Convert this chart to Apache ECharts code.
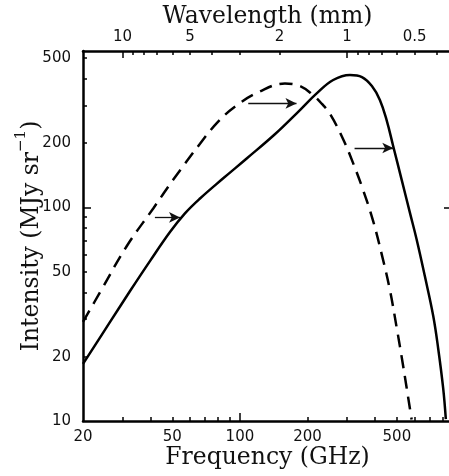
<!DOCTYPE html>
<html>
<head>
<meta charset="utf-8">
<script src="https://cdn.jsdelivr.net/npm/echarts@6/dist/echarts.min.js"></script>
<style>html,body{margin:0;padding:0;background:#fff;}#c{width:449px;height:476px;}</style>
</head>
<body>
<div id="c"></div>
<script>
// Solid curve (frequency GHz, intensity MJy/sr)
var freqSolid = [20, 26.4, 32.4, 39.8, 48.8, 56.9, 66.4, 84.0, 107.5, 143.1, 179.4, 220.3, 260.2, 309, 349.5, 387, 420, 451, 481, 525, 571, 612, 666, 726, 764, 804, 826];
var intSolid  = [18.5, 29.1, 40.6, 56.2, 76.7, 93.8, 110.1, 136.5, 169.9, 220, 276.5, 342.7, 395, 417, 407.7, 370, 318.7, 254.3, 194.5, 135, 94.8, 71, 47.7, 31, 21.8, 14.2, 10.2];
// Dashed curve
var freqDash = [20, 23.8, 31.3, 41.1, 50.5, 66.4, 79.8, 96.0, 121.5, 158.6, 185, 211.3, 231.8, 251.7, 287.5, 318.6, 353, 391.2, 428.9, 465.6, 500.1, 531.9, 571.5, 581.6];
var intDash  = [29.1, 40.0, 65.8, 98.9, 135, 198.7, 251.6, 298.8, 347.1, 380.4, 370.3, 336.2, 305.2, 274.2, 209.7, 162.1, 121.3, 87, 59.8, 41.0, 27.0, 18.4, 11.45, 10.17];
// Arrows: [fromFreq, toFreq, intensity]
var arrows = [[41.8, 54.1, 89.8], [108.9, 178.6, 307], [324, 482, 189.7]];
// Tick values
var freqLabels = [20, 50, 100, 200, 500];
var freqMinorTicks = [30, 40, 50, 60, 70, 80, 90, 200, 300, 400, 500, 600, 700, 800];
var freqMajorTicks = [100];
var wlLabels = [10, 5, 2, 1, 0.5];
var wlMinorTicks = [9, 8, 7, 6, 5, 4, 3, 2, 0.9, 0.8, 0.7, 0.6, 0.5, 0.4];
var wlMajorTicks = [10, 1];
var intLabels = [10, 20, 50, 100, 200, 500];
var intMinorTicks = [20, 30, 40, 50, 60, 70, 80, 90, 200, 300, 400, 500];
var intMajorTicks = [100];

var C = 299.792458; // mm*GHz
var fMin = 20, fMax = 880, iMin = 10, iMax = 540;

function zip(a, b) { return a.map(function (v, i) { return [v, b[i]]; }); }

var labelFont = { fontFamily: 'DejaVu Sans', fontSize: 15, color: '#111' };
var nameFont = { fontFamily: 'DejaVu Serif', fontSize: 23.5, color: '#111' };
var axLine = { show: true, lineStyle: { color: '#000', width: 2.5 } };

function xAx(opts) {
  return Object.assign({
    type: 'log', logBase: 10, min: fMin, max: fMax, splitLine: { show: false },
    axisLine: { show: false }, axisLabel: { show: false }, axisTick: { show: false }
  }, opts);
}
function yAx(opts) {
  return Object.assign({
    type: 'log', logBase: 10, min: iMin, max: iMax, splitLine: { show: false },
    axisLine: { show: false }, axisLabel: { show: false }, axisTick: { show: false }
  }, opts);
}

var markData = arrows.map(function (a) {
  return [{ coord: [a[0], a[2]] }, { coord: [a[1], a[2]] }];
});

var option = {
  animation: false,
  backgroundColor: '#fff',
  grid: { left: 83, top: 51, right: -3, bottom: 55, containLabel: false, outerBoundsMode: 'none' },
  xAxis: [
    xAx({
      position: 'bottom', axisLine: axLine,
      axisTick: { show: true, inside: true, length: 4, customValues: freqMinorTicks, lineStyle: { color: '#000', width: 1.5 } },
      axisLabel: Object.assign({ show: true, margin: 9, customValues: freqLabels }, labelFont),
      name: 'Frequency (GHz)', nameLocation: 'middle', nameGap: 25, nameMoveOverlap: false, nameTextStyle: nameFont
    }),
    xAx({
      position: 'bottom',
      axisTick: { show: true, inside: true, length: 8, customValues: freqMajorTicks, lineStyle: { color: '#000', width: 1.5 } }
    }),
    xAx({
      position: 'top', inverse: true, min: C / fMax, max: C / fMin, axisLine: axLine,
      axisTick: { show: true, inside: true, length: 4, customValues: wlMinorTicks, lineStyle: { color: '#000', width: 1.5 } },
      axisLabel: Object.assign({ show: true, margin: 6, customValues: wlLabels }, labelFont),
      name: 'Wavelength (mm)', nameLocation: 'middle', nameGap: 22, nameMoveOverlap: false, nameTextStyle: nameFont
    }),
    xAx({
      position: 'top', inverse: true, min: C / fMax, max: C / fMin,
      axisTick: { show: true, inside: true, length: 7, customValues: wlMajorTicks, lineStyle: { color: '#000', width: 1.5 } }
    })
  ],
  yAxis: [
    yAx({
      position: 'left', axisLine: axLine,
      axisTick: { show: true, inside: true, length: 4, customValues: intMinorTicks, lineStyle: { color: '#000', width: 1.5 } },
      axisLabel: Object.assign({ show: true, margin: 12, customValues: intLabels }, labelFont),
      name: '{t|Intensity (MJy sr}{s|−1}{t|)}', nameLocation: 'middle', nameRotate: 90, nameGap: 39, nameMoveOverlap: false,
      nameTextStyle: {
        rich: {
          t: { fontFamily: 'DejaVu Serif', fontSize: 23.5, color: '#111', lineHeight: 30, verticalAlign: 'bottom' },
          s: { fontFamily: 'DejaVu Serif', fontSize: 15, color: '#111', lineHeight: 30, verticalAlign: 'top' }
        }
      }
    }),
    yAx({
      position: 'left',
      axisTick: { show: true, inside: true, length: 8, customValues: intMajorTicks, lineStyle: { color: '#000', width: 1.5 } }
    }),
    yAx({
      position: 'right', axisLine: axLine,
      axisTick: { show: true, inside: true, length: 8, customValues: intMajorTicks, lineStyle: { color: '#000', width: 1.5 } }
    })
  ],
  series: [
    {
      type: 'line', xAxisIndex: 0, yAxisIndex: 0, data: zip(freqSolid, intSolid),
      showSymbol: false, smooth: 0.4, clip: true,
      lineStyle: { color: '#000', width: 2.5, type: 'solid' },
      markLine: {
        silent: true, symbol: ['none', 'arrow'], symbolSize: [8, 11],
        label: { show: false },
        lineStyle: { color: '#111', width: 1.3, type: 'solid' },
        data: markData
      }
    },
    {
      type: 'line', xAxisIndex: 0, yAxisIndex: 0, data: zip(freqDash, intDash),
      showSymbol: false, smooth: 0.4, clip: true,
      lineStyle: { color: '#000', width: 2.5, type: [13, 8] }
    }
  ]
};

var chart = echarts.init(document.getElementById('c'), null, { renderer: 'canvas' });
chart.setOption(option);
</script>
</body>
</html>
